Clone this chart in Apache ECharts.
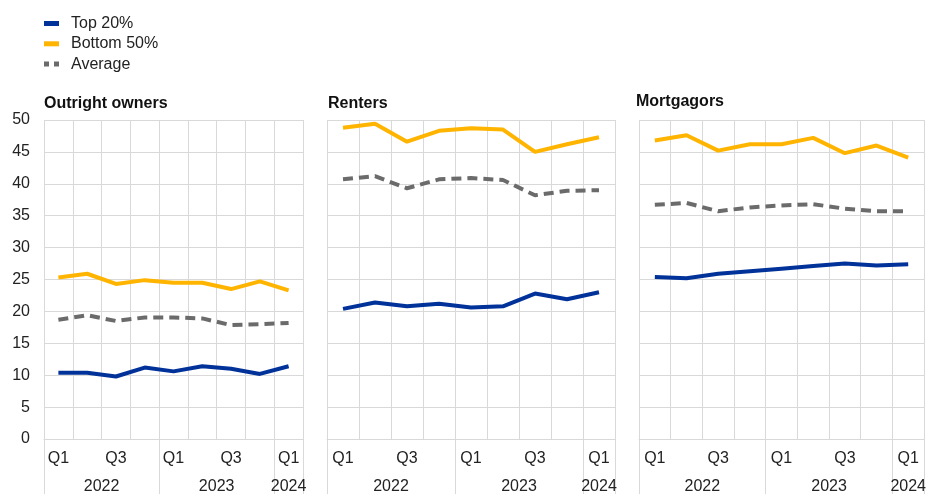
<!DOCTYPE html>
<html>
<head>
<meta charset="utf-8">
<script src="https://cdn.jsdelivr.net/npm/echarts@6/dist/echarts.min.js"></script>
<style>
html,body{margin:0;padding:0;background:#fff;}
#chart{width:929px;height:495px;}
</style>
</head>
<body>
<div id="chart"></div>
<script>
// Categories
var quarters = ['Q1','Q2','Q3','Q4','Q1','Q2','Q3','Q4','Q1'];
var years = ['2022','2023','2024'];
var yearCenters = [2, 6, 8.5];      // in quarter units from start
var yearBounds = [0, 4, 8, 9];
var panelTitles = ['Outright owners','Renters','Mortgagors'];
var seriesNames = ['Top 20%','Bottom 50%','Average'];

// Values (per cent)
var ownersTop20    = [10.4, 10.4, 9.8, 11.2, 10.6, 11.4, 11.0, 10.2, 11.4];
var ownersBottom50 = [25.3, 25.9, 24.3, 24.9, 24.5, 24.5, 23.5, 24.7, 23.3];
var ownersAverage  = [18.7, 19.4, 18.5, 19.05, 19.05, 18.9, 17.85, 18.0, 18.2];

var rentersTop20    = [20.4, 21.4, 20.8, 21.2, 20.6, 20.8, 22.8, 21.9, 23.0];
var rentersBottom50 = [48.8, 49.4, 46.6, 48.3, 48.7, 48.5, 45.0, 46.2, 47.3];
var rentersAverage  = [40.7, 41.2, 39.3, 40.7, 40.9, 40.6, 38.2, 38.9, 39.0];

var mortTop20    = [25.4, 25.2, 25.9, 26.3, 26.7, 27.1, 27.5, 27.2, 27.4];
var mortBottom50 = [46.8, 47.6, 45.2, 46.2, 46.2, 47.2, 44.8, 46.0, 44.1];
var mortAverage  = [36.7, 37.0, 35.7, 36.3, 36.6, 36.8, 36.1, 35.7, 35.7];

var yTicks = {min: 0, max: 50, interval: 5};

var panels = [
  [ownersTop20, ownersBottom50, ownersAverage],
  [rentersTop20, rentersBottom50, rentersAverage],
  [mortTop20, mortBottom50, mortAverage]
];

var colors = ['#003299', '#ffb400', '#6b6b6b'];
var gridColor = '#d9d9d9';
var font = 'Arial, "Liberation Sans", sans-serif';
var textColor = '#222';
var fs = 16;

var grids = [
  {left: 44, top: 120, width: 259, height: 320},
  {left: 327, top: 120, width: 288, height: 320},
  {left: 639, top: 120, width: 286, height: 320}
];
var titlePos = [{left: 44, top: 94.5}, {left: 328, top: 94.5}, {left: 636, top: 92.5}];

var xAxes = [], yAxes = [], series = [], titles = [];
grids.forEach(function (g, i) {
  titles.push({
    text: panelTitles[i], left: titlePos[i].left, top: titlePos[i].top, padding: 0,
    textStyle: {fontSize: fs, fontWeight: 'bold', color: '#111', fontFamily: font, lineHeight: 18}
  });
  xAxes.push({
    type: 'category', gridIndex: i, data: quarters, boundaryGap: true, position: 'bottom',
    axisLine: {show: true, lineStyle: {color: gridColor, width: 1}},
    axisTick: {show: false},
    axisLabel: {interval: 1, margin: 12, fontSize: fs, color: textColor, fontFamily: font},
    splitLine: {show: true, interval: 0, lineStyle: {color: gridColor, width: 1}}
  });
  xAxes.push({
    type: 'value', gridIndex: i, min: 0, max: 9, position: 'bottom',
    axisLine: {show: false},
    splitLine: {show: false},
    axisTick: {show: true, customValues: yearBounds, length: 55, inside: false,
               lineStyle: {color: gridColor, width: 1}},
    axisLabel: {show: true, customValues: yearCenters, margin: 40, fontSize: fs, color: textColor,
                fontFamily: font,
                formatter: function (v) { var k = yearCenters.indexOf(v); return k >= 0 ? years[k] : ''; }}
  });
  yAxes.push({
    type: 'value', gridIndex: i, min: yTicks.min, max: yTicks.max, interval: yTicks.interval,
    axisLine: {show: false}, axisTick: {show: false},
    axisLabel: {show: i === 0, margin: 14, fontSize: fs, color: textColor, fontFamily: font},
    splitLine: {show: true, lineStyle: {color: gridColor, width: 1}}
  });
  panels[i].forEach(function (vals, s) {
    series.push({
      name: seriesNames[s], type: 'line', xAxisIndex: i * 2, yAxisIndex: i,
      data: vals, symbol: 'none', smooth: false, z: 3 + (s === 0 ? 2 : (s === 1 ? 1 : 0)),
      lineStyle: {color: colors[s], width: 4, type: s === 2 ? [10, 6] : 'solid', cap: 'butt'},
      itemStyle: {color: colors[s]}
    });
  });
});

var chart = echarts.init(document.getElementById('chart'), null, {renderer: 'canvas'});
chart.setOption({
  animation: false,
  backgroundColor: '#fff',
  title: titles,
  legend: {
    orient: 'vertical', left: 44, top: 14.5, padding: 0, itemGap: 2.3, itemWidth: 15, itemHeight: 5,
    textStyle: {fontSize: fs, color: textColor, fontFamily: font, lineHeight: 18, padding: [0, 0, 0, 7]},
    data: [
      {name: 'Top 20%', icon: 'rect'},
      {name: 'Bottom 50%', icon: 'rect'},
      {name: 'Average', icon: 'path://M0,0h5v5h-5z M10,0h5v5h-5z'}
    ]
  },
  grid: grids,
  xAxis: xAxes,
  yAxis: yAxes,
  series: series
});
</script>
</body>
</html>
